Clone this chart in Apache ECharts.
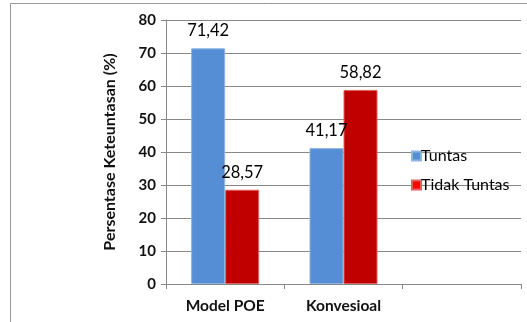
<!DOCTYPE html>
<html><head><meta charset="utf-8">
<script src="https://cdn.jsdelivr.net/npm/echarts@6/dist/echarts.min.js"></script>
<style>html,body{margin:0;padding:0;background:#fff}#c{width:527px;height:322px}</style>
</head><body><div id="c"></div>
<script>
const categories = ['Model POE', 'Konvesioal', ''];
const tuntas = [71.42, 41.17, '-'];
const tidakTuntas = [28.57, 58.82, '-'];
const seriesNames = ['Tuntas', 'Tidak Tuntas'];
const yTicks = [0, 10, 20, 30, 40, 50, 60, 70, 80];

const FONT = 'Lato';
const chart = echarts.init(document.getElementById('c'), null, {renderer: 'canvas'});
const fmt = p => Number(p.value).toFixed(2).replace('.', ',');
chart.setOption({
  animation: false,
  grid: {left: 166, right: 6, top: 20, bottom: 38},
  legend: {
    orient: 'vertical', left: 406, top: 143, itemWidth: 9, itemHeight: 9, itemGap: 13,
    icon: 'rect',
    textStyle: {fontFamily: FONT, fontSize: 16, color: '#000', padding: [0,0,0,-5]},
    data: [{name: seriesNames[0], itemStyle: {color: '#558ED5'}}, {name: seriesNames[1], itemStyle: {color: '#FF0000'}}]
  },
  xAxis: {
    type: 'category', data: categories,
    axisLine: {lineStyle: {color: '#888', width: 1}},
    axisTick: {show: true, length: 5, lineStyle: {color: '#888'}},
    axisLabel: {fontFamily: FONT, fontSize: 15.5, fontWeight: 'bold', color: '#111', margin: 14}
  },
  yAxis: {
    type: 'value', min: yTicks[0], max: yTicks[yTicks.length-1], interval: 10,
    name: 'Persentase Keteuntasan (%)', nameLocation: 'middle', nameGap: 48,
    nameTextStyle: {fontFamily: FONT, fontSize: 16, fontWeight: 'bold', color: '#111'},
    axisLine: {show: true, lineStyle: {color: '#888'}},
    axisTick: {show: true, length: 5, lineStyle: {color: '#888'}},
    axisLabel: {fontFamily: FONT, fontSize: 15, fontWeight: 'bold', color: '#111', margin: 10},
    splitLine: {lineStyle: {color: '#888', width: 1}}
  },
  series: [
    {name: seriesNames[0], type: 'bar', data: tuntas, barWidth: 34, barGap: '0%',
     itemStyle: {color: '#558ED5', borderColor: '#8DB3E2', borderWidth: 1},
     label: {show: true, position: 'top', distance: 9, formatter: fmt, fontFamily: FONT, fontSize: 16.5, color: '#000'}},
    {name: seriesNames[1], type: 'bar', data: tidakTuntas, barWidth: 34, barGap: '0%',
     itemStyle: {color: '#C00000', borderColor: '#E06060', borderWidth: 1},
     label: {show: true, position: 'top', distance: 9, formatter: fmt, fontFamily: FONT, fontSize: 16.5, color: '#000'}}
  ],
  graphic: [
    {type: 'line', shape: {x1: 10.5, y1: 3.5, x2: 527, y2: 3.5}, style: {stroke: '#999', lineWidth: 1}},
    {type: 'line', shape: {x1: 10.5, y1: 3.5, x2: 10.5, y2: 322}, style: {stroke: '#999', lineWidth: 1}}
  ]
});
</script></body></html>
